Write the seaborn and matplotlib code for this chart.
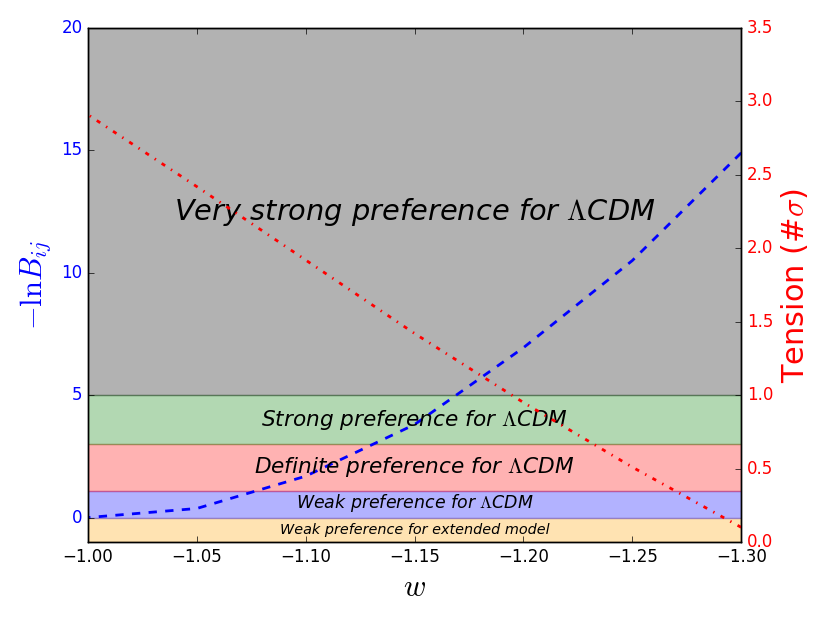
import numpy as np
import pandas as pd
import matplotlib
matplotlib.use("Agg")
import matplotlib.pyplot as plt
import seaborn as sns

# data
w = [-1.00, -1.05, -1.10, -1.15, -1.20, -1.25, -1.30]
lnB = [0.0, 0.37, 1.69, 3.80, 6.94, 10.5, 14.9]
tension = [2.91, 2.42, 1.92, 1.42, 0.95, 0.51, 0.10]

# preference bands on the -lnB scale
band_lo = [-1, 0, 1.1, 3, 5]
band_hi = [0, 1.1, 3, 5, 20]
band_col = ['orange', 'blue', 'red', 'green', 'black']
band_txt = ['Weak preference for extended model',
            r'Weak preference for $\Lambda$CDM',
            r'Definite preference for $\Lambda$CDM',
            r'Strong preference for $\Lambda$CDM',
            r'Very strong preference for $\Lambda$CDM']
txt_y = [-0.5, 0.6, 2.05, 4.0, 12.5]
txt_size = [10.4, 12.5, 15.6, 15.6, 20.8]

plt.style.use('classic')
plt.rcParams['mathtext.fontset'] = 'cm'

df = pd.DataFrame({'w': w, 'lnB': lnB, 'tension': tension})

fig = plt.figure(figsize=(8.3, 6.23), dpi=100, facecolor='white')
ax = fig.add_axes([0.106, 0.130, 0.787, 0.825])

for lo, hi, c in zip(band_lo, band_hi, band_col):
    ax.axhspan(lo, hi, color=c, alpha=0.3)
for t, y, s in zip(band_txt, txt_y, txt_size):
    ax.text(-1.15, y, t, style='italic', fontsize=s, ha='center', va='center')

sns.lineplot(data=df, x='w', y='lnB', ax=ax, color='b', linestyle='--', lw=2)
ax.set_xlim(-1.0, -1.3)
ax.set_ylim(-1, 20)
ax.set_xlabel(r'$w$', fontsize=22)
ax.set_ylabel(r'$-\mathrm{ln}B_{ij}$', fontsize=22, color='b', labelpad=6)

ax2 = ax.twinx()
sns.lineplot(data=df, x='w', y='tension', ax=ax2, color='r', linestyle='-.', lw=2)
ax2.set_xlim(-1.0, -1.3)
ax2.set_ylim(0, 3.5)
ax2.set_ylabel(r'Tension (#$\sigma$)', fontsize=22, color='r', labelpad=4)
for lab in ax2.get_yticklabels():
    lab.set_color('r')
for lab in ax.get_yticklabels():
    lab.set_color('b')

fig.savefig('out.png', dpi=100, facecolor='white')
